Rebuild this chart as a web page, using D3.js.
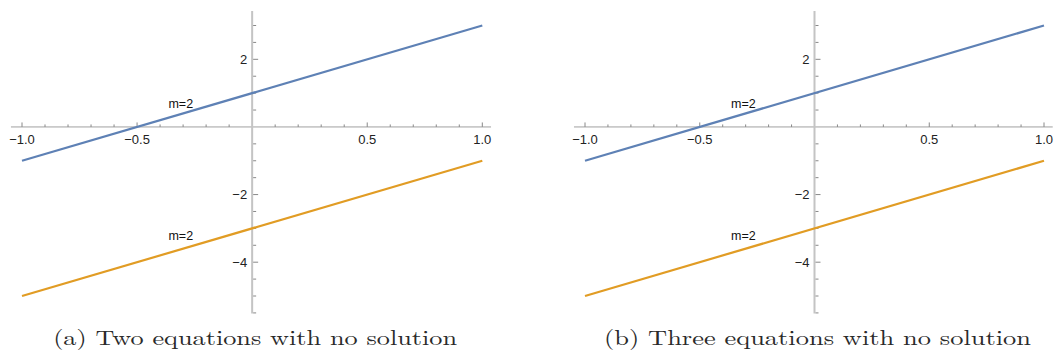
<!DOCTYPE html>
<html>
<head>
<meta charset="utf-8">
<script src="https://cdn.jsdelivr.net/npm/d3@7"></script>
<style>
  body { margin: 0; background: white; }
  svg { display: block; }
</style>
</head>
<body>
<div class="chart"></div>
<script>
// data
const xValues = [-1, 1];
const blueY = [-1, 3];
const orangeY = [-5, -1];
const xTicks = [-1, -0.5, 0.5, 1];
const xTickLabels = ['\u22121.0', '\u22120.5', '0.5', '1.0'];
const yTicks = [2, -2, -4];
const yTickLabels = ['2', '\u22122', '\u22124'];
const slopeLabels = [
  { x: -0.31, y: 0.68, text: 'm=2' },
  { x: -0.31, y: -3.22, text: 'm=2' }
];
const captions = ['(a) Two equations with no solution', '(b) Three equations with no solution'];
const captionWidths = [404, 427];

const width = 1062;
const height = 354;

const svg = d3
  .select('.chart')
  .append('svg')
  .attr('width', width)
  .attr('height', height)
  .style('background', 'white');

function drawPanel(left, right, caption, capWidth) {
  const x = d3.scaleLinear().domain([-1, 1]).range([left, right]);
  const y = d3.scaleLinear().domain([3, -5]).range([25.5, 296]);

  const g = svg.append('g');

  // minor ticks
  const xMinor = d3.range(-10, 11).map((d) => d / 10).filter((d) => d !== 0);
  const yMinor = d3.range(-11, 7).map((d) => d / 2).filter((d) => d !== 0);

  // x axis
  g.append('line')
    .attr('x1', x(-1.048))
    .attr('x2', x(1.038))
    .attr('y1', y(0))
    .attr('y2', y(0))
    .attr('stroke', '#a0a0a0')
    .attr('stroke-width', 1);

  g.selectAll('.xtick')
    .data(xMinor)
    .enter()
    .append('line')
    .attr('x1', (d) => x(d))
    .attr('x2', (d) => x(d))
    .attr('y1', y(0))
    .attr('y2', (d) => y(0) - (xTicks.includes(d) ? 4.5 : 2.5))
    .attr('stroke', '#888')
    .attr('stroke-width', 1);

  g.selectAll('.xlabel')
    .data(xTicks)
    .enter()
    .append('text')
    .attr('x', (d) => x(d))
    .attr('y', y(0) + 17)
    .attr('text-anchor', 'middle')
    .style('font-family', 'Arial, sans-serif')
    .style('font-size', '13px')
    .style('fill', '#222')
    .text((d, i) => xTickLabels[i]);

  // y axis
  g.append('line')
    .attr('x1', x(0))
    .attr('x2', x(0))
    .attr('y1', y(3.43))
    .attr('y2', y(-5.52))
    .attr('stroke', '#c4c4c4')
    .attr('stroke-width', 2);

  g.selectAll('.ytick')
    .data(yMinor)
    .enter()
    .append('line')
    .attr('x1', x(0) + 1)
    .attr('x2', (d) => x(0) + (yTicks.includes(d) ? 6 : 4))
    .attr('y1', (d) => y(d))
    .attr('y2', (d) => y(d))
    .attr('stroke', '#888')
    .attr('stroke-width', 1);

  g.selectAll('.ylabel')
    .data(yTicks)
    .enter()
    .append('text')
    .attr('x', x(0) - 5)
    .attr('y', (d) => y(d) + 4.5)
    .attr('text-anchor', 'end')
    .style('font-family', 'Arial, sans-serif')
    .style('font-size', '13px')
    .style('fill', '#222')
    .text((d, i) => yTickLabels[i]);

  const line = d3
    .line()
    .x((d) => x(d[0]))
    .y((d) => y(d[1]));

  g.append('path')
    .attr('d', line(d3.zip(xValues, blueY)))
    .attr('fill', 'none')
    .attr('stroke', '#5e81b5')
    .attr('stroke-width', 2.2);

  g.append('path')
    .attr('d', line(d3.zip(xValues, orangeY)))
    .attr('fill', 'none')
    .attr('stroke', '#e19c24')
    .attr('stroke-width', 2.2);

  g.selectAll('.slope')
    .data(slopeLabels)
    .enter()
    .append('text')
    .attr('x', (d) => x(d.x))
    .attr('y', (d) => y(d.y) + 4)
    .attr('text-anchor', 'middle')
    .style('font-family', 'Arial, sans-serif')
    .style('font-size', '12.5px')
    .style('fill', '#111')
    .text((d) => d.text);

  g.append('text')
    .attr('x', x(0) + 3)
    .attr('y', 345)
    .attr('text-anchor', 'middle')
    .attr('textLength', capWidth)
    .attr('lengthAdjust', 'spacingAndGlyphs')
    .style('font-family', 'Latin Modern Roman, CMU Serif, DejaVu Serif, serif')
    .style('font-size', '21px')
    .style('fill', '#2a2a2a')
    .text(caption);
}

drawPanel(22, 482.3, captions[0], captionWidths[0]);
drawPanel(585, 1044, captions[1], captionWidths[1]);
</script>
</body>
</html>
